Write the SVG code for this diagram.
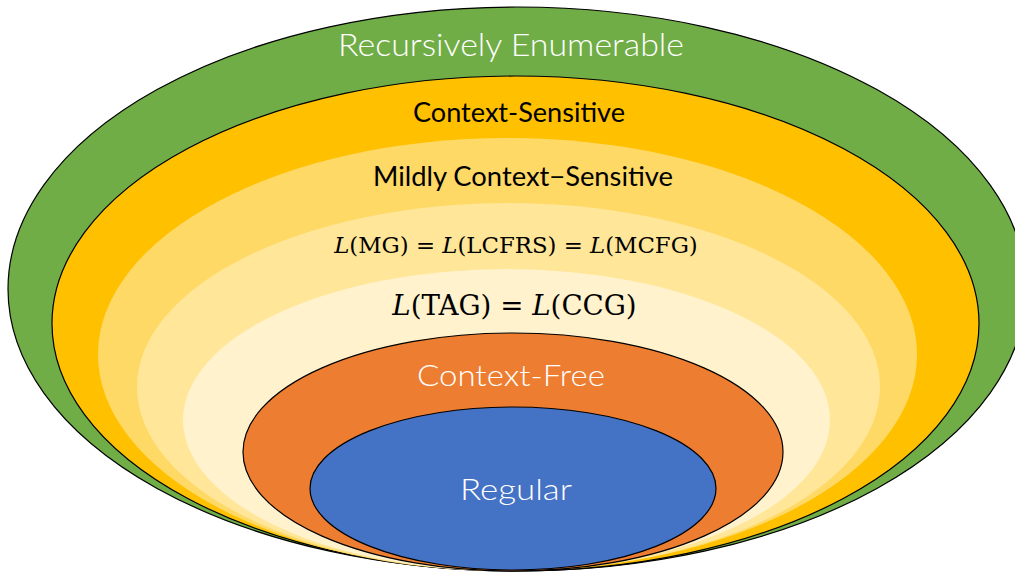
<svg xmlns="http://www.w3.org/2000/svg" width="1015" height="573" viewBox="0 0 1015 573">
  <style>
    .edge { stroke: #000000; stroke-width: 1.2; }
    .label { font-family: Lato, "Open Sans", "Liberation Sans", sans-serif; text-anchor: middle; }
    .light { fill: #ffffff; font-weight: 300; }
    .dark { fill: #000000; font-weight: 400; }
    .math { font-family: "DejaVu Serif", "Liberation Serif", serif; text-anchor: middle; fill: #000000; }
    .var { font-style: italic; }
  </style>
  <rect width="1015" height="573" fill="#ffffff"/>

  <!-- Nested language classes, outermost first -->
  <g id="recursively-enumerable">
    <ellipse cx="517" cy="289" rx="509" ry="282" fill="#70AD47" class="edge"/>
    <text x="511" y="56" class="label light" font-size="31" textLength="346" lengthAdjust="spacingAndGlyphs">Recursively Enumerable</text>
  </g>

  <g id="context-sensitive">
    <ellipse cx="515.5" cy="323.5" rx="463.5" ry="247.5" fill="#FFC000" class="edge"/>
    <text x="519" y="122" class="label dark" font-size="26" textLength="212" lengthAdjust="spacingAndGlyphs">Context-Sensitive</text>
  </g>

  <g id="mildly-context-sensitive">
    <ellipse cx="507.5" cy="354.5" rx="409.5" ry="216.5" fill="#FFD966"/>
    <text x="523" y="186" class="label dark" font-size="26" textLength="300" lengthAdjust="spacingAndGlyphs">Mildly Context−Sensitive</text>
  </g>

  <g id="mg-lcfrs-mcfg">
    <ellipse cx="508.5" cy="387" rx="371.5" ry="184" fill="#FFE699"/>
    <text x="516" y="253" class="math" font-size="22.8"><tspan class="var">L</tspan>(MG) = <tspan class="var">L</tspan>(LCFRS) = <tspan class="var">L</tspan>(MCFG)</text>
  </g>

  <g id="tag-ccg">
    <ellipse cx="506.5" cy="420" rx="323.5" ry="151" fill="#FFF2CC"/>
    <text x="514.5" y="315" class="math" font-size="27.7"><tspan class="var">L</tspan>(TAG) = <tspan class="var">L</tspan>(CCG)</text>
  </g>

  <g id="context-free">
    <ellipse cx="513" cy="452" rx="270" ry="119" fill="#ED7D31" class="edge"/>
    <text x="511" y="386" class="label light" font-size="30" textLength="188" lengthAdjust="spacingAndGlyphs">Context-Free</text>
  </g>

  <g id="regular">
    <ellipse cx="513" cy="488.5" rx="203" ry="81.5" fill="#4472C4" class="edge"/>
    <text x="516" y="500" class="label light" font-size="30" textLength="112" lengthAdjust="spacingAndGlyphs">Regular</text>
  </g>

  <!-- Containment is shown by nesting; there are no separate connectors -->
  <g id="connectors"/>
</svg>
